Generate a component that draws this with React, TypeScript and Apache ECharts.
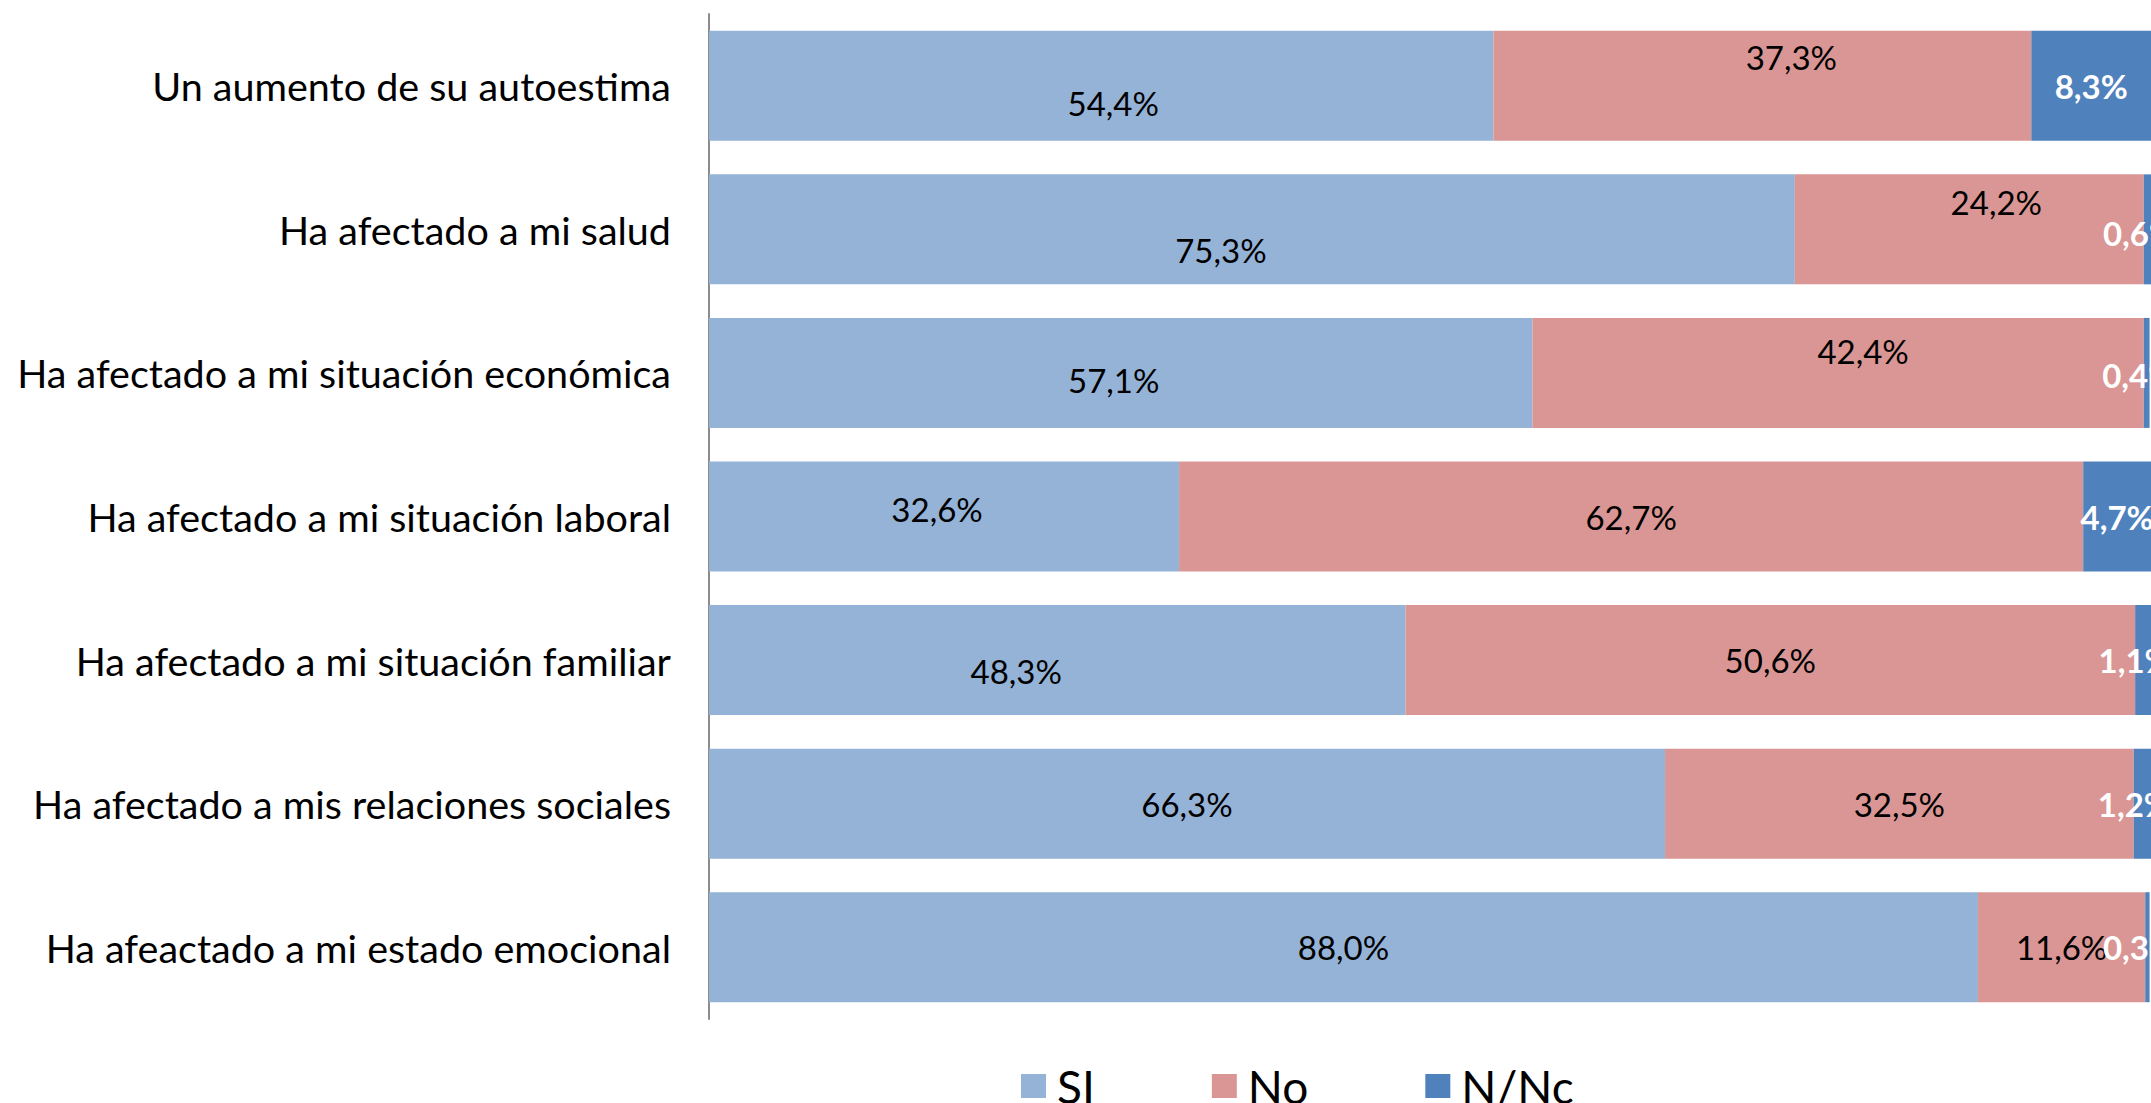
import React, { useEffect, useRef } from "react";
import * as echarts from "echarts";

const categories = [
  "Un aumento de su autoestima",
  "Ha afectado a mi salud",
  "Ha afectado a mi situación económica",
  "Ha afectado a mi situación laboral",
  "Ha afectado a mi situación familiar",
  "Ha afectado a mis relaciones sociales",
  "Ha afeactado a mi estado emocional",
];

const seriesNames = ["SI", "No", "N/Nc"];
const siValues = [54.4, 75.3, 57.1, 32.6, 48.3, 66.3, 88.0];
const noValues = [37.3, 24.2, 42.4, 62.7, 50.6, 32.5, 11.6];
const nsValues = [8.3, 0.6, 0.4, 4.7, 1.1, 1.2, 0.3];

// label nudges (style only): [dx, dy] per row
const siNudge = [[12, 17], [-31, 21], [-7, 7], [-7, -8], [-41, 11], [0, 0], [0, 0]];
const noNudge = [[29, -29], [27, -27], [25, -22], [0, 0], [0, 0], [0, 0], [0, 0]];
const nsNudge = [[0, 0], [-8, 4], [-8, 2], [0, 0], [-8, 0], [-8, 0], [-8, 0]];

const colors = ["#95B3D7", "#DA9694", "#4F81BD"];
const FONT = "Lato, 'Open Sans', sans-serif";

const fmt = (v: number) => v.toFixed(1).replace(".", ",") + "%";

export default function App() {
  const ref = useRef<HTMLDivElement>(null);
  useEffect(() => {
    if (!ref.current) return;
    const chart = echarts.init(ref.current, null, { renderer: "svg" });
    const mk = (vals: number[], nudge: number[][]) =>
      vals.map((v, i) => ({ value: v, label: { offset: nudge[i] } }));
    const baseLabel = {
      show: true,
      position: "inside",
      fontFamily: FONT,
      fontSize: 33,
      formatter: (p: any) => fmt(p.value),
    };
    chart.setOption({
      animation: false,
      textStyle: { fontFamily: FONT },
      grid: { left: 709, top: 14, width: 1445, height: 1005, containLabel: false },
      legend: {
        data: seriesNames,
        left: 1016,
        top: 1058,
        icon: "rect",
        itemWidth: 25,
        itemHeight: 24,
        itemGap: 117,
        textStyle: { fontSize: 46, color: "#000", fontFamily: FONT, padding: [0, 0, 0, 6] },
      },
      xAxis: { type: "value", min: 0, max: 100, show: false },
      yAxis: {
        type: "category",
        data: categories,
        inverse: true,
        axisLine: { show: true, lineStyle: { color: "#8C8C8C", width: 2 } },
        axisTick: { show: false },
        axisLabel: { margin: 38, fontSize: 39.5, color: "#000", fontFamily: FONT },
        splitLine: { show: false },
      },
      series: [
        {
          name: seriesNames[0],
          type: "bar",
          stack: "t",
          barWidth: 110,
          itemStyle: { color: colors[0] },
          label: { ...baseLabel, color: "#000" },
          data: mk(siValues, siNudge),
        },
        {
          name: seriesNames[1],
          type: "bar",
          stack: "t",
          barWidth: 110,
          itemStyle: { color: colors[1] },
          label: { ...baseLabel, color: "#000" },
          data: mk(noValues, noNudge),
        },
        {
          name: seriesNames[2],
          type: "bar",
          stack: "t",
          barWidth: 110,
          itemStyle: { color: colors[2] },
          label: { ...baseLabel, color: "#fff", fontWeight: "bold" },
          data: mk(nsValues, nsNudge),
        },
      ],
    });
    return () => chart.dispose();
  }, []);
  return (
    <div
      ref={ref}
      style={{ position: "absolute", left: 0, top: 0, width: 2151, height: 1103, background: "#fff" }}
    />
  );
}
